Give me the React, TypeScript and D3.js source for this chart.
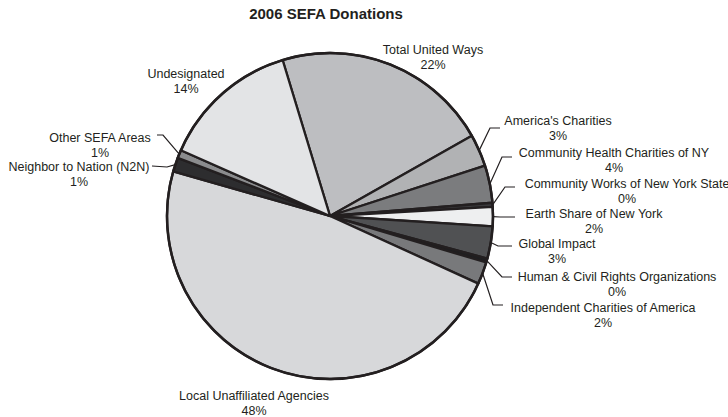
import React, { useEffect, useRef } from "react";
import * as d3 from "d3";

// slices in clockwise order, starting at the Undesignated / United Ways edge
const names = [
  "Total United Ways",
  "America's Charities",
  "Community Health Charities of NY",
  "Community Works of New York State",
  "Earth Share of New York",
  "Global Impact",
  "Human & Civil Rights Organizations",
  "Independent Charities of America",
  "Local Unaffiliated Agencies",
  "Neighbor to Nation (N2N)",
  "Other SEFA Areas",
  "Undesignated",
];
const shares = [21.5, 3.2, 3.7, 0.4, 1.9, 3.2, 0.4, 2.2, 47.6, 1.4, 0.8, 13.7];
const fills = [
  "#bdbec1",
  "#b1b2b4",
  "#7b7c7e",
  "#3a3a3c",
  "#eeeff0",
  "#505153",
  "#1f1f21",
  "#78797b",
  "#d7d8da",
  "#2d2d2f",
  "#8b8c8e",
  "#e3e4e6",
];

// label placement: text centre, first line y, optional leader elbow/end
type LabelPos = { x: number; y: number; elbow?: [number, number]; end?: [number, number] };
const labelPos: LabelPos[] = [
  { x: 433, y: 50 },
  { x: 558, y: 121, elbow: [490, 128], end: [500, 128] },
  { x: 614, y: 153, elbow: [502, 157], end: [512, 157] },
  { x: 627, y: 184, elbow: [505, 187], end: [515, 187] },
  { x: 594, y: 214, elbow: [500, 217], end: [515, 217] },
  { x: 557, y: 244, elbow: [498, 246], end: [512, 246] },
  { x: 617, y: 277, elbow: [502, 277], end: [512, 277] },
  { x: 603, y: 308, elbow: [493, 305], end: [503, 305] },
  { x: 254, y: 396 },
  { x: 79, y: 167, elbow: [167, 167], end: [152, 166] },
  { x: 100, y: 138, elbow: [163, 135], end: [157, 135] },
  { x: 186, y: 74 },
];

const App: React.FC = () => {
  const ref = useRef<SVGSVGElement>(null);

  useEffect(() => {
    if (!ref.current) return;
    const svg = d3.select(ref.current);
    svg.selectAll("*").remove();

    const cx = 330;
    const cy = 216;
    const r = 163;
    const start = (-16.9 * Math.PI) / 180;

    const pie = d3
      .pie<number>()
      .sort(null)
      .value((d) => d)
      .startAngle(start)
      .endAngle(start + 2 * Math.PI);
    const arcs = pie(shares);
    const arc = d3.arc<d3.PieArcDatum<number>>().innerRadius(0).outerRadius(r);

    const g = svg.append("g").attr("transform", `translate(${cx},${cy})`);

    g.selectAll("path")
      .data(arcs)
      .enter()
      .append("path")
      .attr("d", arc)
      .attr("fill", (d, i) => fills[i])
      .attr("stroke", "#231f20")
      .attr("stroke-width", 2.3)
      .attr("stroke-linejoin", "round");

    g.append("circle")
      .attr("r", r)
      .attr("fill", "none")
      .attr("stroke", "#231f20")
      .attr("stroke-width", 2.5);

    // leader lines
    arcs.forEach((a, i) => {
      const p = labelPos[i];
      if (!p.elbow || !p.end) return;
      const mid = (a.startAngle + a.endAngle) / 2;
      const sx = cx + r * Math.sin(mid);
      const sy = cy - r * Math.cos(mid);
      svg
        .append("polyline")
        .attr("points", `${sx},${sy} ${p.elbow[0]},${p.elbow[1]} ${p.end[0]},${p.end[1]}`)
        .attr("fill", "none")
        .attr("stroke", "#231f20")
        .attr("stroke-width", 1.2);
    });

    const total = d3.sum(shares);
    const labels = svg
      .selectAll("g.lbl")
      .data(arcs)
      .enter()
      .append("text")
      .attr("text-anchor", "middle")
      .style("font-family", "Arial, 'Liberation Sans', sans-serif")
      .style("font-size", "12.5px")
      .attr("fill", "#231f20");

    labels
      .append("tspan")
      .attr("x", (d, i) => labelPos[i].x)
      .attr("y", (d, i) => labelPos[i].y)
      .attr("dy", "0.35em")
      .text((d, i) => names[i]);
    labels
      .append("tspan")
      .attr("x", (d, i) => labelPos[i].x)
      .attr("y", (d, i) => labelPos[i].y + 14.5)
      .attr("dy", "0.35em")
      .text((d) => `${Math.round((d.data / total) * 100)}%`);

    svg
      .append("text")
      .attr("x", 326)
      .attr("y", 14)
      .attr("dy", "0.35em")
      .attr("text-anchor", "middle")
      .style("font-family", "Arial, 'Liberation Sans', sans-serif")
      .style("font-size", "15px")
      .style("font-weight", "bold")
      .attr("fill", "#231f20")
      .text("2006 SEFA Donations");
  }, []);

  return (
    <svg
      ref={ref}
      width={728}
      height={417}
      style={{ position: "absolute", left: 0, top: 0, background: "#fff" }}
    />
  );
};

export default App;
